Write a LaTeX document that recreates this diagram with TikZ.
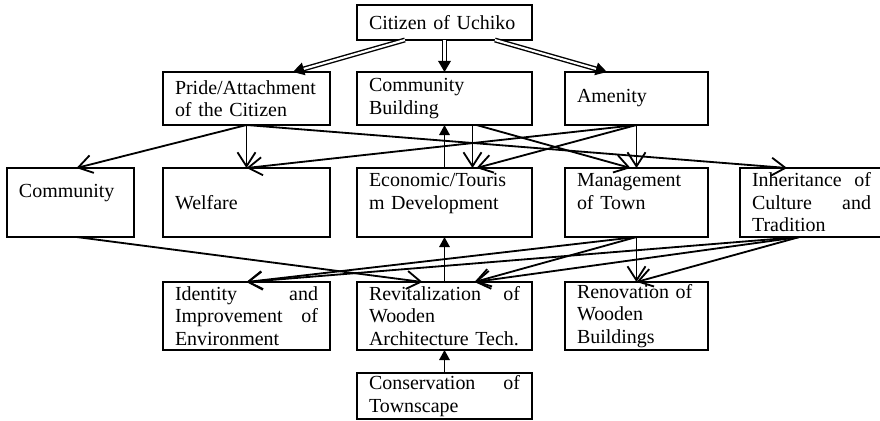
\documentclass[tikz,border=0pt]{standalone}
\usepackage{fontspec}
\setmainfont{Liberation Serif}
\usetikzlibrary{positioning,arrows.meta}

\tikzset{
  box/.style={draw, line width=1.4pt, outer sep=0pt, inner xsep=0.3cm, inner ysep=0pt, align=left,
    font=\fontsize{14.2pt}{16pt}\selectfont},
  wbig/.style={text width=3.775cm, minimum width=4.375cm},
  wmid/.style={text width=3.575cm, minimum width=4.175cm},
  wnar/.style={text width=2.975cm, minimum width=3.575cm},
  wmin/.style={text width=2.575cm, minimum width=3.175cm},
  flow/.style={line width=1.3pt, -{Straight Barb[length=0.35cm,width=0.45cm]}},
  back/.style={line width=1.3pt, -{Triangle[length=0.25cm,width=0.26cm]}},
  twin/.style={double, double distance=1.5pt, line width=1pt, -{Triangle[length=0.28cm,width=0.32cm]}},
}

\begin{document}
\begin{tikzpicture}
\useasboundingbox (0,0) rectangle (22,-10.5);

\node[box, wbig, minimum height=1.325cm] (build) at (11.1125,-2.4625) {Community\\Building};
\node[box, wbig, minimum height=0.875cm, above=0.8cm of build] (citizen) {Citizen of Uchiko};
\node[box, wmid, minimum height=1.325cm, left=0.675cm of build] (pride) {Pride/Attachment\\of the Citizen};
\node[box, wnar, minimum height=1.325cm, right=0.825cm of build] (amenity) {Amenity};

\node[box, wbig, minimum height=1.725cm, below=1.075cm of build] (econ) {Economic/Touris\\m Development\\\mbox{}};
\node[box, wmid, minimum height=1.725cm, left=0.675cm of econ] (welfare) {Welfare};
\node[box, wmin, minimum height=1.725cm, left=0.725cm of welfare] (community) {Community\\\mbox{}};
\node[box, wnar, minimum height=1.725cm, right=0.825cm of econ] (mgmt) {Management\\of Town\\\mbox{}};
\node[box, wnar, minimum height=1.725cm, right=0.8cm of mgmt] (inherit) {Inheritance\hfill of\\Culture\hfill and\\Tradition};

\node[box, wbig, minimum height=1.7cm, below=1.125cm of econ] (revital) {Revitalization\hfill of\\Wooden\\Architecture Tech.};
\node[box, wmid, minimum height=1.7cm, left=0.675cm of revital] (identity) {Identity\hfill and\\Improvement\hfill of\\Environment};
\node[box, wnar, minimum height=1.7cm, right=0.825cm of revital] (renov) {Renovation of\\Wooden\\Buildings};
\node[box, wbig, minimum height=1.15cm, below=0.575cm of revital] (conserv) {Conservation\hfill of\\Townscape};

\draw[twin] ([xshift=-0.99cm]citizen.south) -- ([xshift=1.16cm]pride.north);
\draw[twin] (citizen.south) -- (build.north);
\draw[twin] ([xshift=1.26cm]citizen.south) -- ([xshift=-0.74cm]amenity.north);

\draw[flow] (pride.south) -- ([xshift=0.15cm]community.north);
\draw[flow] (pride.south) -- (welfare.north);
\draw[flow] (pride.south) -- ([xshift=-0.61cm]inherit.north);
\draw[flow] (amenity.south) -- (welfare.north);
\draw[flow] (amenity.south) -- ([xshift=0.8cm]econ.north);
\draw[flow] (amenity.south) -- (mgmt.north);
\draw[flow] ([xshift=0.7cm]build.south) -- ([xshift=0.7cm]econ.north);
\draw[flow] ([xshift=0.8cm]build.south) -- ([xshift=-0.15cm]mgmt.north);
\draw[back] (econ.north) -- (build.south);

\draw[flow] ([xshift=0.15cm]community.south) -- ([xshift=-0.55cm]revital.north);
\draw[flow] (mgmt.south) -- (identity.north);
\draw[flow] (mgmt.south) -- ([xshift=0.75cm]revital.north);
\draw[flow] (mgmt.south) -- (renov.north);
\draw[flow] ([xshift=-0.3cm]inherit.south) -- (identity.north);
\draw[flow] ([xshift=-0.3cm]inherit.south) -- ([xshift=0.75cm]revital.north);
\draw[flow] ([xshift=-0.3cm]inherit.south) -- (renov.north);
\draw[back] (revital.north) -- (econ.south);
\draw[back] (conserv.north) -- (revital.south);
\end{tikzpicture}
\end{document}
